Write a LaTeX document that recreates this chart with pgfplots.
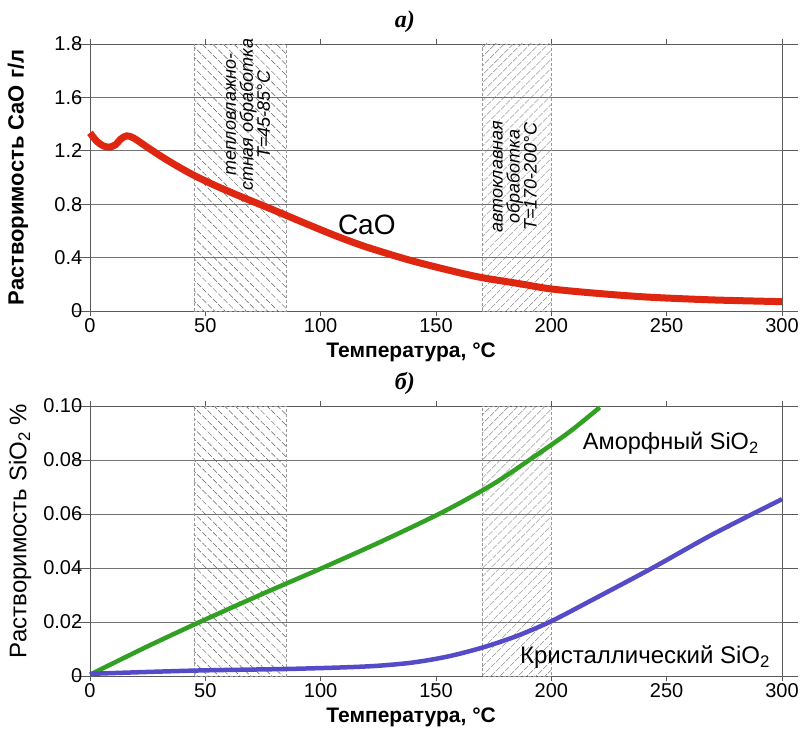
\documentclass[border=0pt]{standalone}
\usepackage{fontspec}
\setmainfont{Liberation Sans}
\newfontfamily\titlefont{Liberation Serif}
\usepackage{pgfplots}
\pgfplotsset{compat=1.18}
\usetikzlibrary{patterns.meta}
\definecolor{caoc}{RGB}{222,38,16}
\definecolor{amor}{RGB}{50,160,35}
\definecolor{cris}{RGB}{85,75,200}
\definecolor{axc}{RGB}{90,90,90}
\definecolor{gridc}{RGB}{115,115,115}
\definecolor{hatchc}{RGB}{95,95,95}
\tikzset{
  hatchA/.style={draw=gray!80, densely dashed, line width=0.5pt, pattern={Lines[angle=-45, distance=7.5pt, line width=0.5pt]}, pattern color=hatchc},
  hatchB/.style={draw=gray!80, densely dashed, line width=0.5pt, pattern={Lines[angle=45, distance=6.5pt, line width=0.5pt]}, pattern color=hatchc},
}
\pgfplotsset{
  base/.style={
    scale only axis, width=692pt,
    xmin=0, xmax=300,
    xtick={0,50,100,150,200,250,300},
    xticklabels={0,50,100,150,200,250,300},
    axis line style={axc, line width=0.9pt},
    ymajorgrids, grid style={gridc, line width=0.7pt},
    tick align=outside,
    xtick style={axc, line width=0.8pt, /pgfplots/major tick length=5pt},
    ytick style={axc, line width=0.8pt, /pgfplots/major tick length=16pt},
    ticklabel style={font=\fontsize{20}{22}\selectfont, text=black},
    /pgf/number format/assume math mode=true,
    xlabel={Температура, °C},
    xlabel style={font=\bfseries\fontsize{21}{24}\selectfont, at={(axis description cs:0.464,0)}, anchor=center, yshift=-41pt},
    clip=false,
  },
}
\begin{document}
\begin{tikzpicture}
\useasboundingbox (-90pt,-422pt) rectangle (712pt,311pt);
% ---------- a) CaO ----------
\begin{axis}[base, at={(0pt,0pt)}, anchor=south west, height=267pt,
  ymin=0, ymax=2, ytick={0,0.4,0.8,1.2,1.6,2.0},
  yticklabels={0,0.4,0.8,1.2,1.6,1.8},
  ylabel={Растворимость CaO г/л},
  ylabel style={font=\bfseries\fontsize{22}{24}\selectfont, at={(axis description cs:-0.104,0.5)}, anchor=center}]
\draw[hatchA] (axis cs:45,0) rectangle (axis cs:85,2);
\draw[hatchB] (axis cs:170,0) rectangle (axis cs:200,2);
\node[rotate=90, align=center, font=\itshape\fontsize{18}{17}\selectfont] at (axis cs:68.5,1.47) {тепловлажно-\\стная обработка\\T=45-85°C};
\node[rotate=90, align=center, font=\itshape\fontsize{18}{17}\selectfont] at (axis cs:184.2,1.005) {автоклавная\\обработка\\T=170-200°C};
\addplot[caoc, line width=7pt, smooth] coordinates {
(0,1.335) (3,1.27) (6,1.235) (8.5,1.228) (11,1.245) (13.5,1.29) (16,1.312) (19,1.295)
(25,1.225) (33,1.135) (43,1.035) (53,0.95) (65,0.86) (77,0.775) (88,0.695) (97,0.630)
(107,0.560) (118,0.49) (128,0.435) (140,0.374) (155,0.308) (169,0.253) (186,0.205)
(200,0.165) (220,0.132) (242,0.104) (270,0.083) (300,0.070)};
\node[font=\fontsize{28}{30}\selectfont] at (axis cs:120,0.645) {CaO};
\node[font=\titlefont\bfseries\itshape\fontsize{24}{26}\selectfont] at (axis description cs:0.455,1) [yshift=22pt] {а)};
\end{axis}
% ---------- б) SiO2 ----------
\begin{axis}[base, at={(0pt,-365pt)}, anchor=south west, height=270pt,
  ymin=0, ymax=0.1, ytick={0,0.02,0.04,0.06,0.08,0.1},
  yticklabels={0,0.02,0.04,0.06,0.08,0.10},
  ylabel={Растворимость SiO\textsubscript{2} \%},
  ylabel style={font=\fontsize{24}{26}\selectfont, at={(axis description cs:-0.101,0.537)}, anchor=center}]
\draw[hatchA] (axis cs:45,0) rectangle (axis cs:85,0.1);
\draw[hatchB] (axis cs:170,0) rectangle (axis cs:200,0.1);
\addplot[amor, line width=4.5pt, smooth] coordinates {
(0,0.0005) (25,0.011) (47.6,0.020) (75,0.0305) (102,0.0405) (128,0.0505) (154,0.0612)
(175,0.0712) (193,0.0815) (208,0.0905) (221,0.0995)};
\addplot[cris, line width=4.5pt, smooth] coordinates {
(0,0.0008) (25,0.0015) (50,0.0021) (85,0.0026) (110,0.0032) (125,0.0038) (140,0.005)
(155,0.0072) (170,0.0105) (185,0.0148) (200,0.0203) (218,0.0283) (244,0.0401)
(270,0.0525) (300,0.0655)};
\node[font=\fontsize{23.5}{25}\selectfont] at (axis cs:251.8,0.0863) {Аморфный SiO\textsubscript{2}};
\node[font=\fontsize{24}{25}\selectfont] at (axis cs:240.6,0.0069) {Кристаллический SiO\textsubscript{2}};
\node[font=\titlefont\bfseries\itshape\fontsize{24}{26}\selectfont] at (axis description cs:0.455,1) [yshift=23pt] {б)};
\end{axis}
\end{tikzpicture}
\end{document}
